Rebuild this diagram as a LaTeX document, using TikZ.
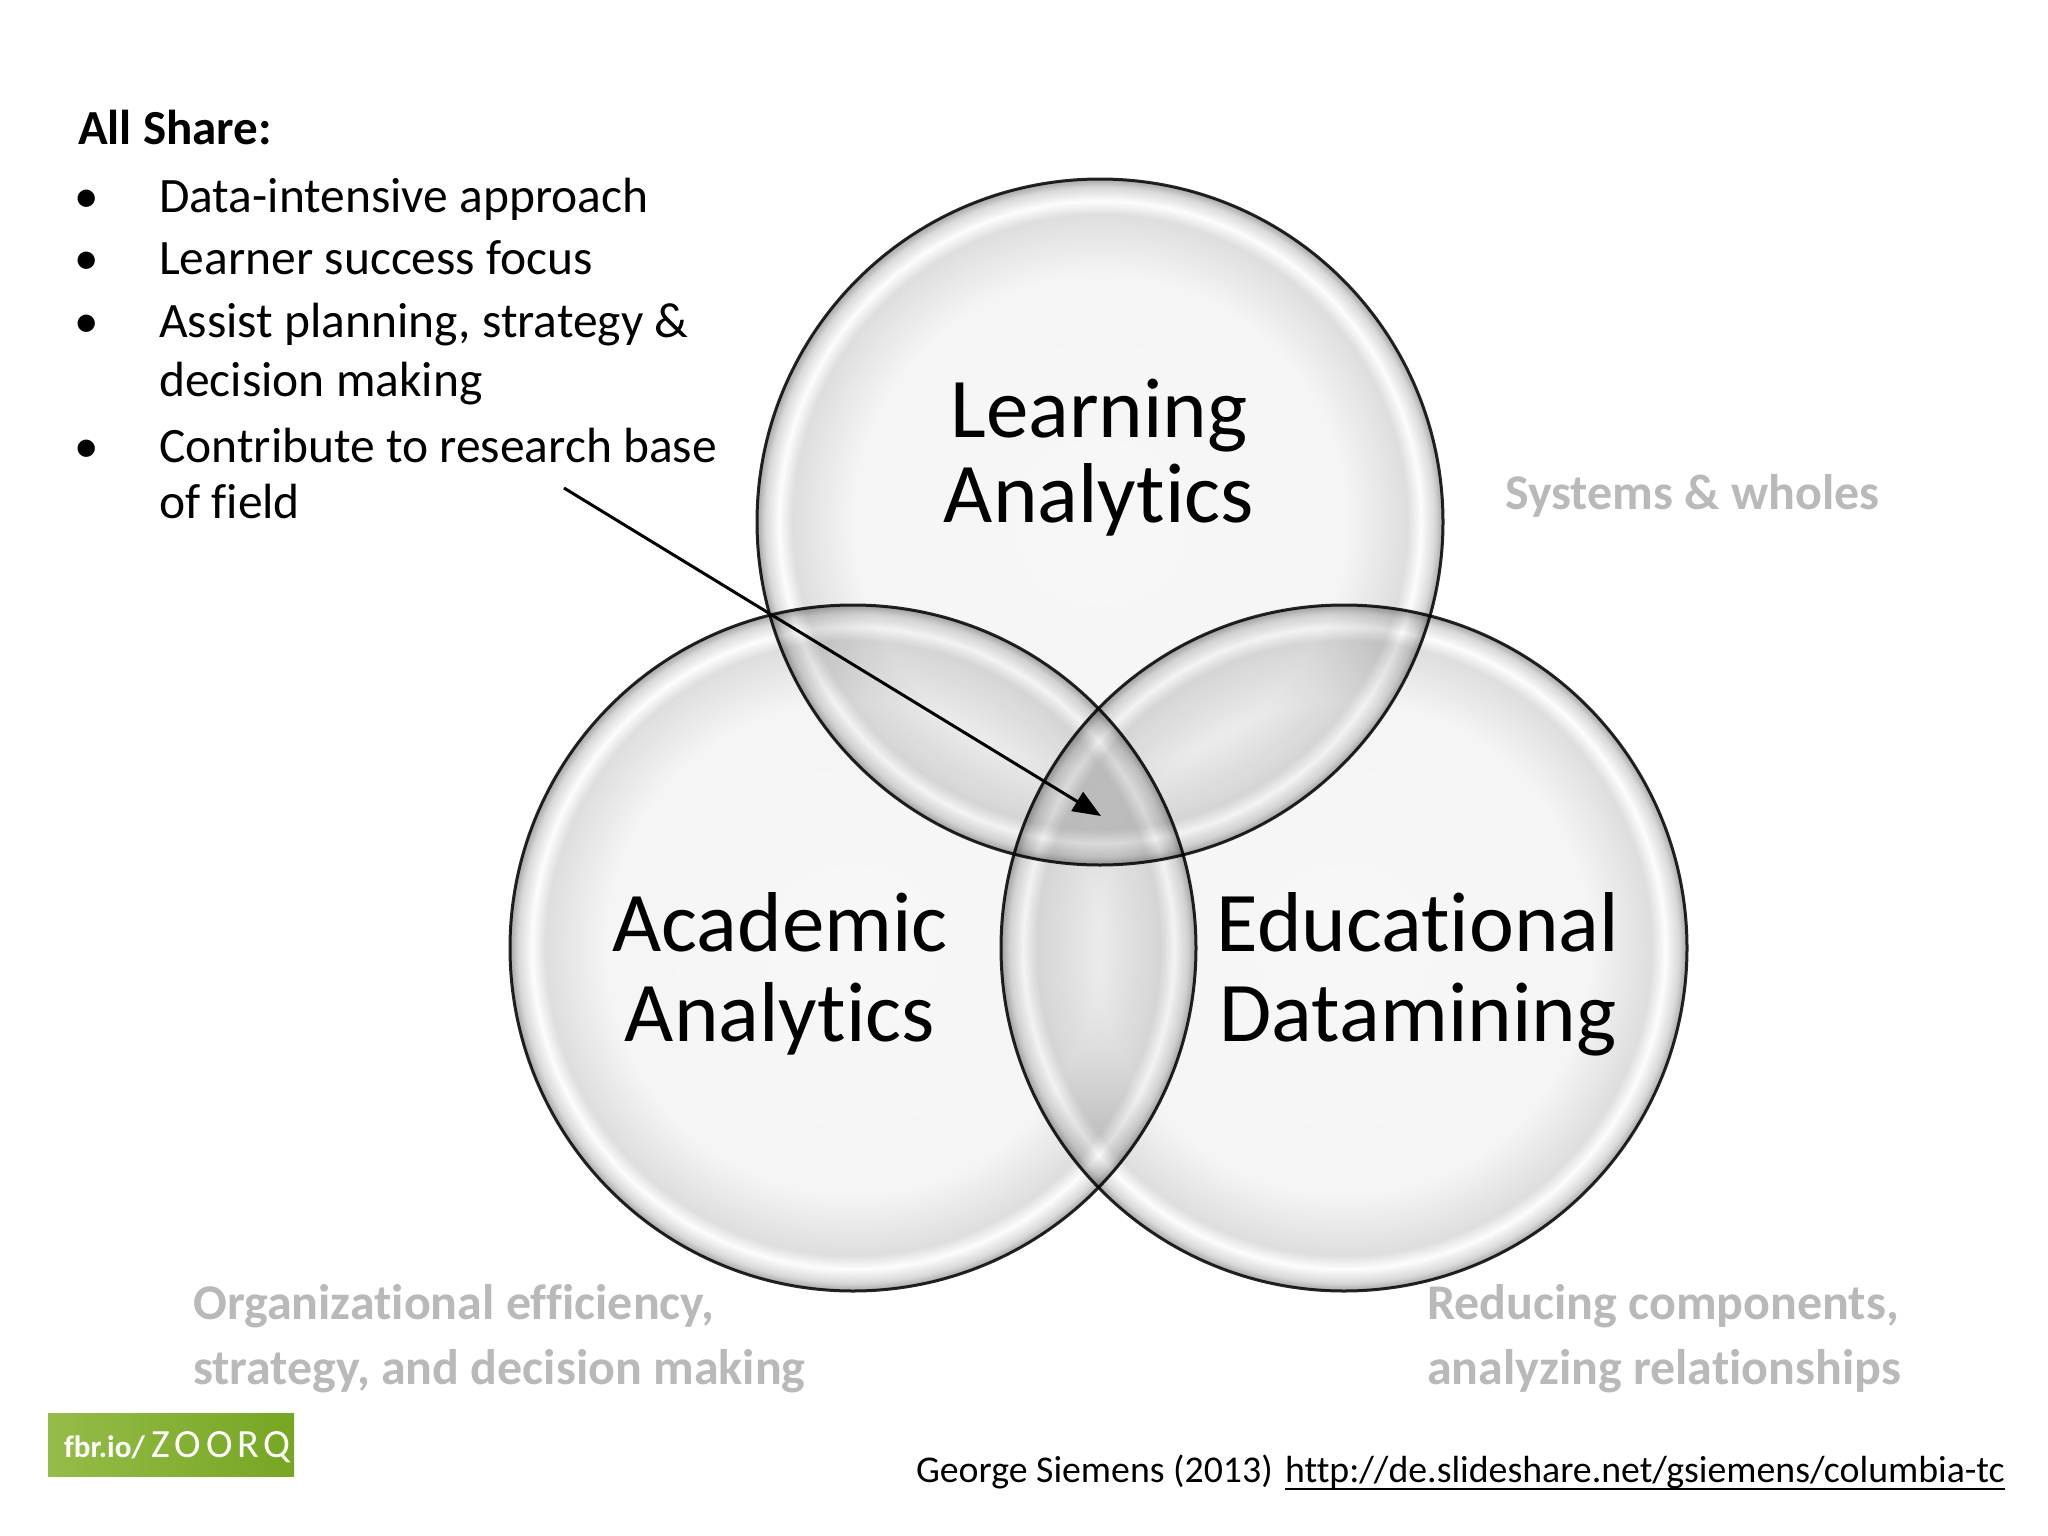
\documentclass[tikz,border=0pt]{standalone}
\usepackage{fontspec}
\setmainfont{Carlito}[Ligatures=NoCommon]
\usetikzlibrary{arrows.meta}
\definecolor{labgray}{HTML}{B9B9B9}
\definecolor{badgeA}{HTML}{95BC48}
\definecolor{badgeB}{HTML}{76A622}
\pgfdeclareradialshading{bubbleshade}{\pgfpoint{0bp}{0bp}}{color(0bp)=(black!3); color(18bp)=(black!4); color(22.4bp)=(black!13); color(23.4bp)=(black!1); color(24.4bp)=(black!15); color(25bp)=(black!35); color(50bp)=(black!35)}
\tikzset{
  bubblenode/.style={circle, minimum size=686pt, inner sep=0pt, shading=bubbleshade, draw=black!85, line width=3pt},
  bigtext/.style={font=\fontsize{85}{100}\selectfont, anchor=base, inner sep=0pt},
  listtext/.style={font=\fontsize{49.5}{59}\selectfont, anchor=base west, inner sep=0pt},
  bullettext/.style={font=\fontsize{49}{59}\selectfont, anchor=base, inner sep=0pt},
  graylab/.style={font=\fontsize{50}{59}\selectfont\bfseries, text=labgray, anchor=base west, inner sep=0pt},
  citetext/.style={font=\fontsize{37.8}{40}\selectfont, anchor=base east, inner sep=0pt},
}
\begin{document}
\begin{tikzpicture}[x=1pt,y=-1pt]
\useasboundingbox (0,0) rectangle (2048,1536);
\fill[white] (0,0) rectangle (2048,1536);
% circles
\begin{scope}[blend group=multiply]
\node[bubblenode] (LA) at (1100,522) {};
\node[bubblenode] (AA) at (853,948) {};
\node[bubblenode] (ED) at (1344,948) {};
\end{scope}
% circle labels
\node[bigtext] (la1) at (1099,437) {Learning};
\node[bigtext] (la2) at (1099,522) {Analytics};
\node[bigtext] (aa1) at (780,951) {Academic};
\node[bigtext] (aa2) at (780,1041) {Analytics};
\node[bigtext] (ed1) at (1418,951) {Educational};
\node[bigtext] (ed2) at (1418,1041) {Datamining};
% list
\node[listtext, font=\fontsize{49}{59}\selectfont\bfseries] (allshare) at (78,145) {All Share:};
\node[bullettext] (b1) at (87,212) {•};
\node[listtext] (l1) at (159,212) {Data-intensive approach};
\node[bullettext] (b2) at (87,274) {•};
\node[listtext] (l2) at (159,274) {Learner success focus};
\node[bullettext] (b3) at (87,337) {•};
\node[listtext] (l3) at (159,337) {Assist planning, strategy \&};
\node[listtext] (l3b) at (159,396) {decision making};
\node[bullettext] (b4) at (87,462) {•};
\node[listtext] (l4) at (159,462) {Contribute to research base};
\node[listtext] (l4b) at (159,518) {of field};
% arrow
\coordinate (arrstart) at (564,488);
\coordinate (arrtip) at (1101,816);
\draw[line width=3pt, -{Triangle[length=28pt,width=22pt]}] (arrstart) -- (arrtip);
% gray labels
\node[graylab] (sys) at (1505,509) {Systems \& wholes};
\node[graylab] (org1) at (193,1319) {Organizational efficiency,};
\node[graylab] (org2) at (193,1384) {strategy, and decision making};
\node[graylab] (red1) at (1427,1319) {Reducing components,};
\node[graylab] (red2) at (1427,1384) {analyzing relationships};
% badge
\node[rectangle, minimum width=246pt, minimum height=63pt, inner sep=0pt, left color=badgeA, right color=badgeB] (badge) at (171,1444.5) {};
\node[anchor=base west, inner sep=0pt, text=white] (badgetext) at (64,1457) {{\fontsize{31}{31}\selectfont\bfseries fbr.io/}\hspace{7pt}{\fontsize{40}{40}\selectfont\addfontfeatures{LetterSpace=12}ZOORQ}};
% citation
\node[citetext] (url) at (2005,1482) {http://de.slideshare.net/gsiemens/columbia-tc};
\node[citetext] (cite) at ([xshift=-12pt]url.base west) {George Siemens (2013)};
\draw[line width=2.5pt] ([yshift=-7pt]url.base west) -- ([yshift=-7pt]url.base east);
\end{tikzpicture}
\end{document}
